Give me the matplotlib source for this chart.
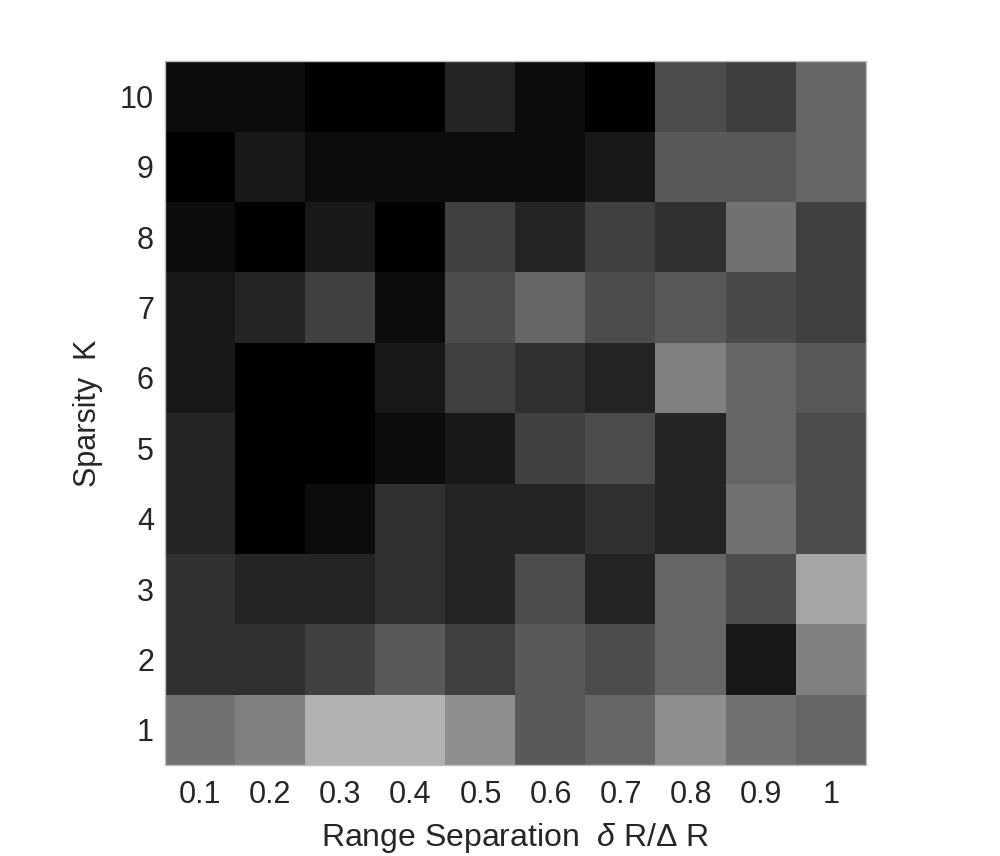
import numpy as np
import matplotlib
matplotlib.use("Agg")
import matplotlib.pyplot as plt

plt.rcParams["font.family"] = ["Liberation Sans", "DejaVu Sans"]
plt.rcParams["mathtext.fontset"] = "custom"
plt.rcParams["mathtext.rm"] = "Liberation Sans"
plt.rcParams["mathtext.it"] = "Liberation Sans:italic"

# range separation (columns) and sparsity K (rows, K=1 at bottom)
sep = ["0.1", "0.2", "0.3", "0.4", "0.5", "0.6", "0.7", "0.8", "0.9", "1"]
sparsity = [1, 2, 3, 4, 5, 6, 7, 8, 9, 10]

# gray level (0..255), one row per K, K=1 first
k1 = [0x72, 0x80, 0xb2, 0xb2, 0x8e, 0x5a, 0x66, 0x8e, 0x72, 0x66]
k2 = [0x30, 0x30, 0x40, 0x5a, 0x40, 0x5a, 0x4c, 0x66, 0x18, 0x80]
k3 = [0x30, 0x24, 0x24, 0x30, 0x24, 0x4c, 0x24, 0x66, 0x4c, 0xa6]
k4 = [0x24, 0x00, 0x0c, 0x30, 0x24, 0x24, 0x30, 0x24, 0x72, 0x4c]
k5 = [0x24, 0x00, 0x00, 0x0c, 0x18, 0x40, 0x4c, 0x24, 0x66, 0x4c]
k6 = [0x18, 0x00, 0x00, 0x18, 0x40, 0x30, 0x24, 0x80, 0x66, 0x58]
k7 = [0x18, 0x24, 0x40, 0x0c, 0x4c, 0x66, 0x4c, 0x58, 0x4a, 0x40]
k8 = [0x0c, 0x00, 0x18, 0x00, 0x40, 0x24, 0x40, 0x30, 0x72, 0x40]
k9 = [0x00, 0x18, 0x0c, 0x0c, 0x0c, 0x0c, 0x18, 0x5a, 0x58, 0x66]
k10 = [0x0c, 0x0c, 0x00, 0x00, 0x24, 0x0c, 0x00, 0x4c, 0x3e, 0x66]

Z = np.array([k1, k2, k3, k4, k5, k6, k7, k8, k9, k10], dtype=float)

fig = plt.figure(figsize=(10, 8.56), dpi=100)
ax = fig.add_axes([0.165, 0.1063, 0.701, 0.8224])
ax.imshow(Z, cmap="gray", vmin=0, vmax=255, origin="lower",
          aspect="auto", interpolation="nearest")

ax.set_xticks(range(len(sep)))
ax.set_xticklabels(sep)
ax.set_yticks(range(len(sparsity)))
ax.set_yticklabels([str(k) for k in sparsity])
ax.tick_params(length=0, labelsize=22, colors="#262626")
ax.tick_params(axis="x", pad=11)
ax.tick_params(axis="y", pad=8)
for s in ax.spines.values():
    s.set_color("#bdbdbd")
    s.set_linewidth(1.0)

ax.set_xlabel(r"Range Separation  $\delta$ R/$\Delta$ R", fontsize=23,
              color="#262626", labelpad=8)
ax.set_ylabel("Sparsity  K", fontsize=22, color="#262626", labelpad=12)

fig.savefig("out.png", dpi=100)
